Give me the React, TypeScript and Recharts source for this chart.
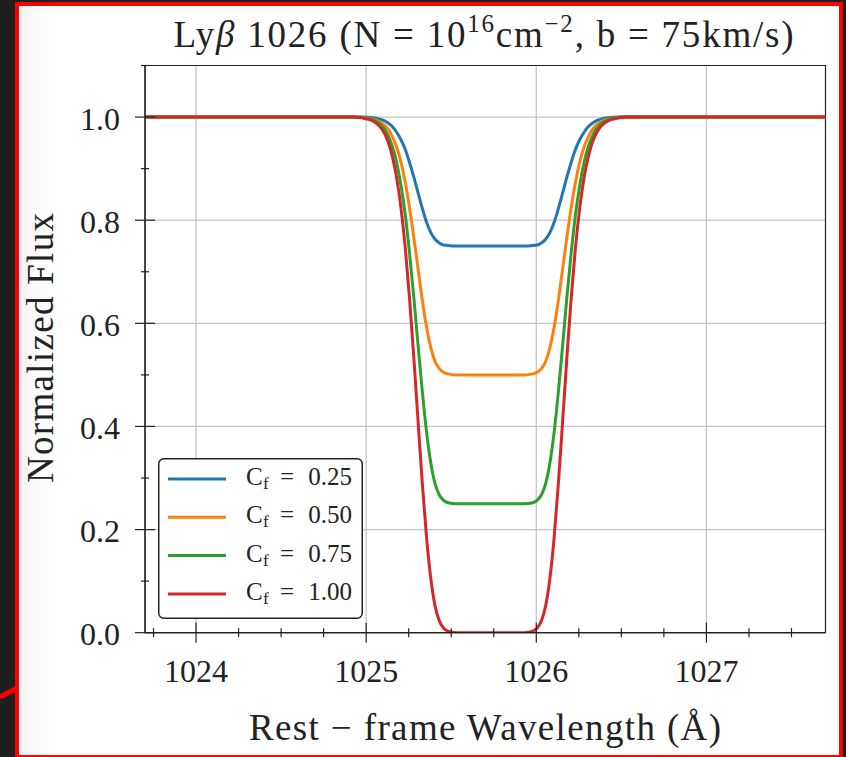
import { LineChart, Line, XAxis, YAxis, CartesianGrid, Legend, ReferenceArea } from "recharts"

// Rest-frame wavelength samples (Å) across the Lyβ line
const wavelength = [
  1023.7, 1024.8, 1024.93, 1024.98, 1025.03, 1025.08, 1025.105, 1025.13, 1025.155, 1025.18,
  1025.205, 1025.23, 1025.255, 1025.28, 1025.305, 1025.33, 1025.355, 1025.38, 1025.405, 1025.43,
  1025.455, 1025.48, 1025.53, 1025.63, 1025.73, 1025.83, 1025.93, 1025.98, 1026.005, 1026.03,
  1026.055, 1026.08, 1026.105, 1026.13, 1026.155, 1026.18, 1026.205, 1026.23, 1026.255, 1026.28,
  1026.305, 1026.33, 1026.355, 1026.38, 1026.43, 1026.48, 1026.53, 1026.66, 1027.7,
]

// Normalized flux for each covering fraction
const fluxCf025 = [
  1, 1, 1.0, 1.0, 0.999, 0.996, 0.993, 0.988, 0.981, 0.97,
  0.956, 0.937, 0.912, 0.884, 0.853, 0.823, 0.796, 0.776, 0.763, 0.756,
  0.752, 0.751, 0.75, 0.75, 0.75, 0.75, 0.75, 0.751, 0.752, 0.756,
  0.763, 0.776, 0.796, 0.823, 0.853, 0.884, 0.912, 0.937, 0.956, 0.97,
  0.981, 0.988, 0.993, 0.996, 0.999, 1.0, 1.0, 1, 1,
]
const fluxCf050 = [
  1, 1, 1.0, 0.999, 0.997, 0.991, 0.985, 0.976, 0.961, 0.941,
  0.912, 0.873, 0.824, 0.767, 0.706, 0.645, 0.593, 0.553, 0.526, 0.512,
  0.505, 0.502, 0.5, 0.5, 0.5, 0.5, 0.5, 0.502, 0.505, 0.512,
  0.526, 0.553, 0.593, 0.645, 0.706, 0.767, 0.824, 0.873, 0.912, 0.941,
  0.961, 0.976, 0.985, 0.991, 0.997, 0.999, 1.0, 1, 1,
]
const fluxCf075 = [
  1, 1, 1.0, 0.999, 0.996, 0.987, 0.978, 0.963, 0.942, 0.911,
  0.867, 0.81, 0.736, 0.651, 0.558, 0.468, 0.389, 0.329, 0.289, 0.267,
  0.257, 0.252, 0.25, 0.25, 0.25, 0.25, 0.25, 0.252, 0.257, 0.267,
  0.289, 0.329, 0.389, 0.468, 0.558, 0.651, 0.736, 0.81, 0.867, 0.911,
  0.942, 0.963, 0.978, 0.987, 0.996, 0.999, 1.0, 1, 1,
]
const fluxCf100 = [
  1, 1, 1.0, 0.998, 0.994, 0.982, 0.97, 0.951, 0.922, 0.881,
  0.823, 0.746, 0.648, 0.534, 0.411, 0.29, 0.185, 0.105, 0.052, 0.023,
  0.009, 0.003, 0, 0, 0, 0, 0, 0.003, 0.009, 0.023,
  0.052, 0.105, 0.185, 0.29, 0.411, 0.534, 0.648, 0.746, 0.823, 0.881,
  0.922, 0.951, 0.97, 0.982, 0.994, 0.998, 1.0, 1, 1,
]

const coverLabels = ["0.25", "0.50", "0.75", "1.00"]
const seriesKeys = ["cf025", "cf050", "cf075", "cf100"]
const seriesColors = ["#1f77b4", "#ff7f0e", "#2ca02c", "#d62728"]

const xDomain = [1023.7, 1027.7]
const yDomain = [0, 1.1]
const xTicks = [
  1023.75, 1024, 1024.25, 1024.5, 1024.75, 1025, 1025.25, 1025.5, 1025.75, 1026, 1026.25,
  1026.5, 1026.75, 1027, 1027.25, 1027.5,
]
const xMajor = [1024, 1025, 1026, 1027]
const yTicks = [0, 0.1, 0.2, 0.3, 0.4, 0.5, 0.6, 0.7, 0.8, 0.9, 1.0, 1.1]
const yMajor = [0, 0.2, 0.4, 0.6, 0.8, 1.0]

const data = wavelength.map((w, i) => ({
  wavelength: w,
  cf025: fluxCf025[i],
  cf050: fluxCf050[i],
  cf075: fluxCf075[i],
  cf100: fluxCf100[i],
}))

const W = 846
const H = 757
const PLOT_LEFT = 145
const PLOT_RIGHT = 825.5
const PLOT_TOP = 65.5
const PLOT_BOTTOM = 632.7
const Y_AXIS_W = 80
const X_AXIS_H = 80
const FONT = "'Liberation Serif', 'Times New Roman', serif"
const INK = "#222"

function XTick({ x, payload }: any) {
  const major = xMajor.includes(payload.value)
  const len = major ? 10 : 4.5
  return (
    <g>
      <line x1={x} x2={x} y1={PLOT_BOTTOM - len} y2={PLOT_BOTTOM + len} stroke={INK} strokeWidth={1.2} />
      {major && (
        <text x={x} y={PLOT_BOTTOM + 49} textAnchor="middle" fontFamily={FONT} fontSize={32} fill={INK}>
          {payload.value}
        </text>
      )}
    </g>
  )
}

function YTick({ y, payload }: any) {
  const major = yMajor.some((v) => Math.abs(v - payload.value) < 1e-9)
  const len = major ? 10 : 4
  return (
    <g>
      <line x1={PLOT_LEFT - len} x2={PLOT_LEFT + len} y1={y} y2={y} stroke={INK} strokeWidth={1.2} />
      {major && (
        <text x={PLOT_LEFT - 25} y={y + 12.5} textAnchor="end" fontFamily={FONT} fontSize={32} fill={INK}>
          {payload.value.toFixed(1)}
        </text>
      )}
    </g>
  )
}

function LegendBox({ payload }: any) {
  const rows = payload || []
  return (
    <svg width={205} height={161} style={{ display: "block" }}>
      <rect x={0.75} y={0.75} width={203.5} height={159.5} rx={5} fill="#fff" stroke={INK} strokeWidth={1.5} />
      {rows.map((entry: any, i: number) => {
        const cy = 21 + i * 38.3
        const idx = seriesKeys.indexOf(entry.dataKey)
        return (
          <g key={entry.dataKey}>
            <line x1={10} x2={68} y1={cy} y2={cy} stroke={entry.color} strokeWidth={3} />
            <text x={88} y={cy + 6} fontFamily={FONT} fontSize={25} fill={INK}>C</text>
            <text x={105} y={cy + 10} fontFamily={FONT} fontSize={17} fill={INK}>f</text>
            <text x={122} y={cy + 6} fontFamily={FONT} fontSize={25} fill={INK}>=</text>
            <text x={194} y={cy + 6} textAnchor="end" fontFamily={FONT} fontSize={25} fill={INK}>
              {coverLabels[idx]}
            </text>
          </g>
        )
      })}
    </svg>
  )
}

export default function App() {
  return (
    <div style={{ position: "absolute", left: 0, top: 0, width: W, height: H, background: "#1f1f1f", overflow: "hidden" }}>
      <svg width={W} height={H} style={{ position: "absolute", left: 0, top: 0 }}>
        <line x1={0} y1={697} x2={17} y2={688} stroke="#ff0000" strokeWidth={5} />
      </svg>
      <div
        style={{
          position: "absolute",
          left: 15,
          top: 2,
          width: 828,
          height: 757,
          boxSizing: "border-box",
          border: "4px solid #ff0000",
          background: "linear-gradient(90deg, #eeeeee 0px, #fafafa 14px, #ffffff 40px)",
        }}
      />
      <div style={{ position: "absolute", left: 0, top: 0 }}>
        <LineChart
          width={W}
          height={H}
          data={data}
          margin={{
            top: PLOT_TOP,
            right: W - PLOT_RIGHT,
            left: PLOT_LEFT - Y_AXIS_W,
            bottom: H - PLOT_BOTTOM - X_AXIS_H,
          }}
        >
          <CartesianGrid verticalValues={xMajor} horizontalValues={yMajor} stroke="#c4c4c4" strokeWidth={1.3} />
          <XAxis
            dataKey="wavelength"
            type="number"
            domain={xDomain}
            ticks={xTicks}
            interval={0}
            allowDataOverflow
            height={X_AXIS_H}
            axisLine={{ stroke: INK, strokeWidth: 1.2 }}
            tickLine={false}
            tick={<XTick />}
          />
          <YAxis
            type="number"
            domain={yDomain}
            ticks={yTicks}
            interval={0}
            allowDataOverflow
            width={Y_AXIS_W}
            axisLine={{ stroke: INK, strokeWidth: 1.2 }}
            tickLine={false}
            tick={<YTick />}
          />
          {/* plot frame */}
          <ReferenceArea
            x1={xDomain[0]}
            x2={xDomain[1]}
            y1={yDomain[0]}
            y2={yDomain[1]}
            fill="none"
            fillOpacity={0}
            stroke={INK}
            strokeWidth={1.2}
          />
          {seriesKeys.map((key, i) => (
            <Line
              key={key}
              dataKey={key}
              name={coverLabels[i]}
              type="monotone"
              stroke={seriesColors[i]}
              strokeWidth={3}
              dot={false}
              activeDot={false}
              isAnimationActive={false}
            />
          ))}
          <Legend
            layout="horizontal"
            verticalAlign="middle"
            align="center"
            content={<LegendBox />}
            wrapperStyle={{ position: "absolute", left: 158, top: 458, width: 205, height: 161 }}
          />
        </LineChart>
      </div>
      <svg width={W} height={H} style={{ position: "absolute", left: 0, top: 0, pointerEvents: "none" }}>
        <text x={483.5} y={47} textAnchor="middle" fontFamily={FONT} fontSize={37} fill={INK} textLength={620} lengthAdjust="spacing">
          {"Ly"}
          <tspan fontStyle="italic">β</tspan>
          {" 1026 (N = 10"}
          <tspan dy={-15} fontSize={25}>16</tspan>
          <tspan dy={15}>cm</tspan>
          <tspan dy={-15} fontSize={25}>−2</tspan>
          <tspan dy={15}>{", b = 75km/s)"}</tspan>
        </text>
        <text
          transform="translate(53, 348) rotate(-90)"
          x={0}
          y={0}
          textAnchor="middle"
          fontFamily={FONT}
          fontSize={37}
          fill={INK}
          textLength={270}
          lengthAdjust="spacing"
        >
          Normalized Flux
        </text>
        <text x={485} y={740} textAnchor="middle" fontFamily={FONT} fontSize={37} fill={INK} textLength={472} lengthAdjust="spacing">
          {"Rest − frame Wavelength (Å)"}
        </text>
      </svg>
    </div>
  )
}
